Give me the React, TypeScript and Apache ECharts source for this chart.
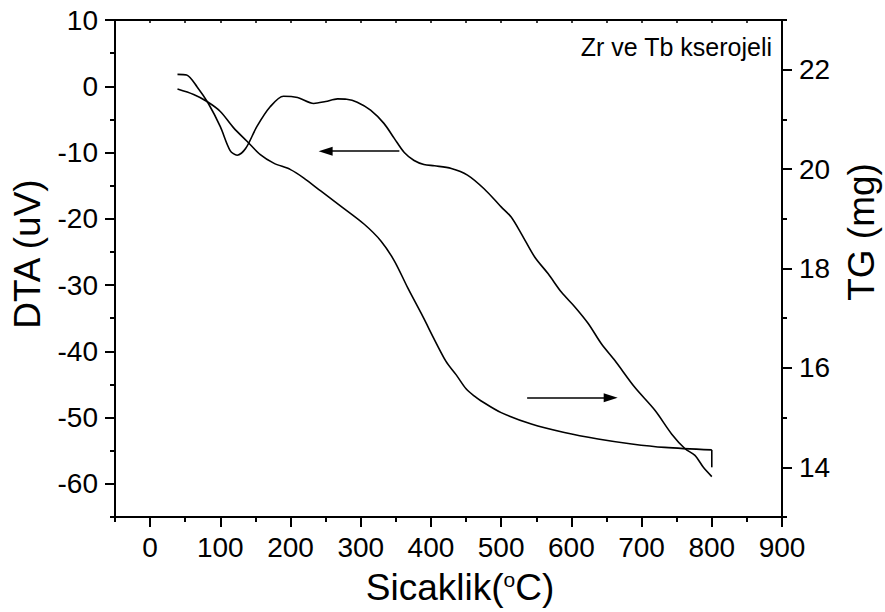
import React, { useEffect, useRef } from "react";
import * as echarts from "echarts";

// DTA curve (left axis, uV)
const dtaTemp = [39, 52, 67, 83, 100, 114, 124, 136, 152, 171, 190, 210, 233, 250, 267, 280, 295, 314, 333, 348, 362, 376, 390, 405, 429, 452, 476, 500, 514, 529, 548, 567, 586, 605, 624, 643, 662, 690, 719, 743, 762, 776, 788, 800];
const dtaValue = [1.8, 1.7, -0.1, -2.6, -6.1, -9.7, -10.4, -9.4, -6.1, -3.1, -1.5, -1.7, -2.6, -2.3, -1.9, -1.95, -2.4, -3.6, -5.6, -7.9, -10.0, -11.2, -11.8, -12.0, -12.4, -13.4, -15.5, -18.2, -19.7, -22.3, -25.8, -28.3, -31.1, -33.3, -35.8, -38.9, -41.4, -45.4, -48.9, -52.5, -54.7, -55.7, -57.5, -58.9];

// TG curve (right axis, mg)
const tgTemp = [39, 62, 81, 100, 119, 138, 157, 176, 200, 219, 243, 271, 305, 329, 348, 367, 386, 421, 436, 450, 462, 471, 500, 543, 590, 638, 686, 733, 800];
const tgValue = [21.61, 21.5, 21.36, 21.16, 20.83, 20.56, 20.29, 20.12, 19.99, 19.82, 19.56, 19.26, 18.89, 18.55, 18.15, 17.61, 17.1, 16.14, 15.86, 15.58, 15.43, 15.34, 15.1, 14.87, 14.7, 14.57, 14.47, 14.4, 14.35];
const tgEndTemp = [800, 800];
const tgEndValue = [14.35, 14.0];

// arrows: [startTemp, endTemp, level]
const dtaArrow = [355, 250, -9.8];
const tgArrow = [537, 656, 15.4];

// ticks
const xMajorTicks = [0, 100, 200, 300, 400, 500, 600, 700, 800, 900];
const xMinorTicks = [-50, 50, 150, 250, 350, 450, 550, 650, 750, 850];
const xTopTicks = [0, 50, 100, 150, 200, 250, 300, 350, 400, 450, 500, 550, 600, 650, 700, 750, 800, 850];
const dtaMajorTicks = [-60, -50, -40, -30, -20, -10, 0, 10];
const dtaMinorTicks = [-65, -55, -45, -35, -25, -15, -5, 5];
const tgMajorTicks = [14, 16, 18, 20, 22];
const tgMinorTicks = [13, 15, 17, 19, 21, 23];

const xTitle = "Sicaklik(";
const xTitleSup = "o";
const xTitleEnd = "C)";
const dtaTitle = "DTA (uV)";
const tgTitle = "TG (mg)";
const note = "Zr ve Tb kserojeli";

const FONT = "'Liberation Sans', Arial, Helvetica, sans-serif";
const BLACK = "#000";

function zip(a: number[], b: number[]) {
  return a.map((v, i) => [v, b[i]]);
}

export default function App() {
  const ref = useRef<HTMLDivElement>(null);
  useEffect(() => {
    const chart = echarts.init(ref.current!, null, { renderer: "svg" });
    const line = { color: BLACK, width: 2 };
    const xBase = { type: "value", min: -50, max: 900, splitLine: { show: false } };
    const dtaBase = { type: "value", min: -65, max: 10, splitLine: { show: false } };
    const tgBase = { type: "value", min: 13, max: 23, splitLine: { show: false } };
    const label = { fontSize: 28, color: BLACK, fontFamily: FONT };
    const arrowMark = (a: number[]) => ({
      silent: true,
      symbol: ["none", "triangle"],
      symbolSize: [9, 14],
      label: { show: false },
      lineStyle: { color: BLACK, width: 1.6, type: "solid" },
      itemStyle: { color: BLACK },
      data: [[{ coord: [a[0], a[2]] }, { coord: [a[1], a[2]] }]],
    });
    const option: any = {
      animation: false,
      backgroundColor: "#fff",
      grid: { left: 115, right: 103, top: 20, bottom: 95, containLabel: false, outerBoundsMode: "none" },
      xAxis: [
        {
          ...xBase,
          position: "bottom",
          axisLine: { show: true, onZero: false, lineStyle: line },
          axisTick: { show: true, customValues: xMajorTicks, length: 10, lineStyle: line },
          axisLabel: { ...label, customValues: xMajorTicks, margin: 16 },
        },
        {
          ...xBase,
          position: "bottom",
          axisLine: { show: false, onZero: false },
          axisTick: { show: true, customValues: xMinorTicks, length: 5, lineStyle: line },
          axisLabel: { show: false },
        },
        {
          ...xBase,
          position: "top",
          axisLine: { show: true, onZero: false, lineStyle: line },
          axisTick: { show: true, customValues: xTopTicks, inside: true, length: 3, lineStyle: { color: BLACK, width: 1.5 } },
          axisLabel: { show: false },
        },
      ],
      yAxis: [
        {
          ...dtaBase,
          position: "left",
          axisLine: { show: true, onZero: false, lineStyle: line },
          axisTick: { show: true, customValues: dtaMajorTicks, length: 10, lineStyle: line },
          axisLabel: { ...label, customValues: dtaMajorTicks, margin: 17 },
        },
        {
          ...dtaBase,
          position: "left",
          axisLine: { show: false, onZero: false },
          axisTick: { show: true, customValues: dtaMinorTicks, length: 5, lineStyle: line },
          axisLabel: { show: false },
        },
        {
          ...tgBase,
          position: "right",
          axisLine: { show: true, onZero: false, lineStyle: line },
          axisTick: { show: true, customValues: tgMajorTicks, length: 10, lineStyle: line },
          axisLabel: { ...label, customValues: tgMajorTicks, margin: 17 },
        },
        {
          ...tgBase,
          position: "right",
          axisLine: { show: false, onZero: false },
          axisTick: { show: true, customValues: tgMinorTicks, length: 5, lineStyle: line },
          axisLabel: { show: false },
        },
      ],
      series: [
        {
          type: "line",
          name: "DTA",
          xAxisIndex: 0,
          yAxisIndex: 0,
          data: zip(dtaTemp, dtaValue),
          smooth: 0.3,
          symbol: "none",
          lineStyle: { color: BLACK, width: 1.6 },
          silent: true,
          markLine: arrowMark(dtaArrow),
        },
        {
          type: "line",
          name: "TG",
          xAxisIndex: 0,
          yAxisIndex: 2,
          data: zip(tgTemp, tgValue),
          smooth: 0.3,
          symbol: "none",
          lineStyle: { color: BLACK, width: 1.6 },
          silent: true,
          markLine: arrowMark(tgArrow),
        },
        {
          type: "line",
          name: "TG end",
          xAxisIndex: 0,
          yAxisIndex: 2,
          data: zip(tgEndTemp, tgEndValue),
          symbol: "none",
          lineStyle: { color: BLACK, width: 1.6 },
          silent: true,
        },
      ],
      graphic: [
        {
          type: "text",
          x: 460,
          y: 587,
          silent: true,
          style: {
            text: `{a|${xTitle}}{s|${xTitleSup}}{a|${xTitleEnd}}`,
            align: "center",
            verticalAlign: "middle",
            rich: {
              a: { fontSize: 37, fontFamily: FONT, fill: BLACK },
              s: { fontSize: 21, fontFamily: FONT, fill: BLACK, verticalAlign: "top" },
            },
          },
        },
        {
          type: "text",
          x: 27,
          y: 254,
          rotation: Math.PI / 2,
          silent: true,
          style: { text: dtaTitle, fontSize: 37, fontFamily: FONT, fill: BLACK, align: "center", verticalAlign: "middle" },
        },
        {
          type: "text",
          x: 861,
          y: 232,
          rotation: Math.PI / 2,
          silent: true,
          style: { text: tgTitle, fontSize: 37, fontFamily: FONT, fill: BLACK, align: "center", verticalAlign: "middle" },
        },
        {
          type: "text",
          x: 772,
          y: 47,
          silent: true,
          style: { text: note, fontSize: 25, fontFamily: FONT, fill: BLACK, align: "right", verticalAlign: "middle" },
        },
      ],
    };
    chart.setOption(option);
    return () => chart.dispose();
  }, []);
  return <div ref={ref} style={{ position: "fixed", left: 0, top: 0, width: 885, height: 612, background: "#fff" }} />;
}
